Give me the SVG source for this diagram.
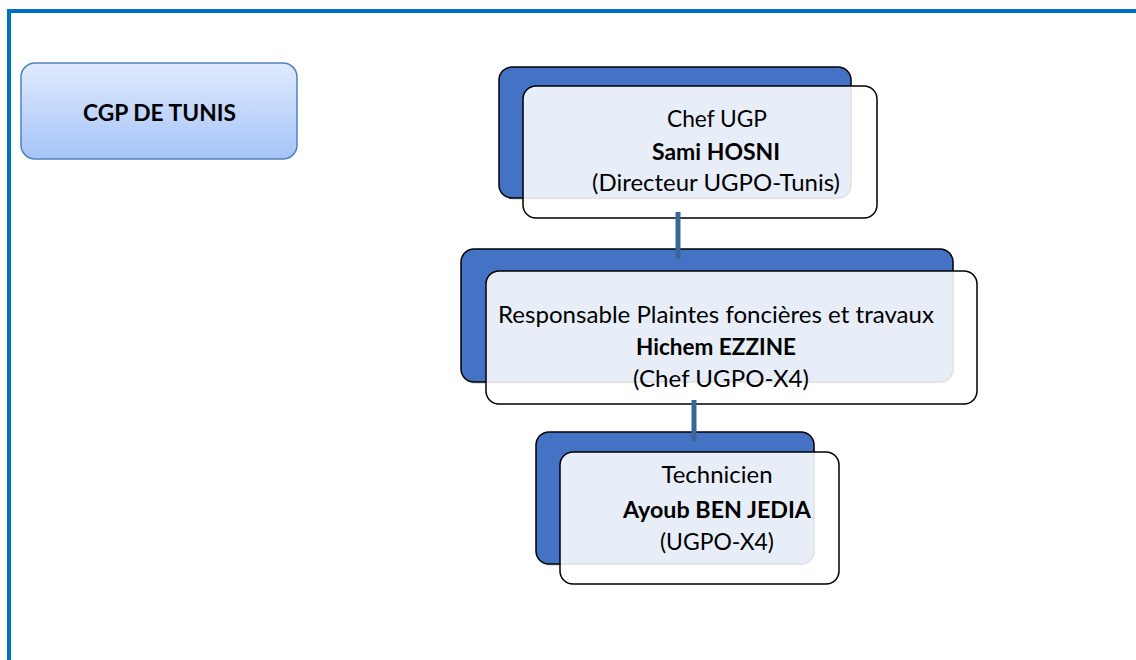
<svg xmlns="http://www.w3.org/2000/svg" width="1136" height="660" viewBox="0 0 1136 660">
  <defs>
    <linearGradient id="cgpFill" x1="0" y1="0" x2="0" y2="1">
      <stop offset="0" stop-color="#E0EAFD"/>
      <stop offset="1" stop-color="#A6C4F9"/>
    </linearGradient>
  </defs>
  <style>
    .frame { fill: none; stroke: #0070C0; stroke-width: 4; }
    .cgp { fill: url(#cgpFill); stroke: #4F81BD; stroke-width: 1.5; }
    .back { fill: #4472C4; stroke: #000; stroke-width: 1.5; }
    .shade { fill: #000; opacity: 0.12; }
    .front { fill: #FFFFFF; fill-opacity: 0.88; stroke: #000; stroke-width: 1.5; }
    .link { stroke: #3B6698; stroke-width: 5; fill: none; }
    text { font-family: Lato, "Liberation Sans", sans-serif; font-size: 23.5px; fill: #000; text-anchor: middle; }
    .b { font-weight: bold; }
  </style>

  <rect width="1136" height="660" fill="#FFFFFF"/>
  <!-- page frame (open towards the right and bottom edges) -->
  <rect class="frame" x="9" y="11" width="1200" height="700"/>

  <g id="cgp-tunis">
    <rect class="cgp" x="21" y="63" width="276" height="96" rx="14"/>
    <text class="b" x="159.5" y="121" font-size="22" textLength="153" lengthAdjust="spacingAndGlyphs">CGP DE TUNIS</text>
  </g>

  <g id="chef-ugp">
    <rect class="shade" x="500" y="69" width="352" height="131" rx="13"/>
    <rect class="back" x="499" y="67" width="352" height="131" rx="13"/>
    <rect class="front" x="523" y="86" width="354" height="132" rx="13"/>
    <text x="717" y="127" textLength="100" lengthAdjust="spacingAndGlyphs">Chef UGP</text>
    <text class="b" x="716" y="160" textLength="128" lengthAdjust="spacingAndGlyphs">Sami HOSNI</text>
    <text x="716" y="191" textLength="248" lengthAdjust="spacingAndGlyphs">(Directeur UGPO-Tunis)</text>
  </g>

  <g id="responsable-plaintes">
    <rect class="shade" x="462" y="251" width="492" height="133" rx="13"/>
    <rect class="back" x="461" y="249" width="492" height="133" rx="13"/>
    <rect class="front" x="486" y="271" width="491" height="133" rx="13"/>
    <text x="716" y="323" textLength="436" lengthAdjust="spacingAndGlyphs">Responsable Plaintes foncières et travaux</text>
    <text class="b" x="716" y="355" textLength="160" lengthAdjust="spacingAndGlyphs">Hichem EZZINE</text>
    <text x="721" y="387" textLength="176" lengthAdjust="spacingAndGlyphs">(Chef UGPO-X4)</text>
  </g>

  <g id="technicien">
    <rect class="shade" x="537" y="434" width="278" height="132" rx="13"/>
    <rect class="back" x="536" y="432" width="278" height="132" rx="13"/>
    <rect class="front" x="560" y="452" width="279" height="132" rx="13"/>
    <text x="717" y="483" textLength="111" lengthAdjust="spacingAndGlyphs">Technicien</text>
    <text class="b" x="717" y="518" textLength="188" lengthAdjust="spacingAndGlyphs">Ayoub BEN JEDIA</text>
    <text x="717" y="550" textLength="114" lengthAdjust="spacingAndGlyphs">(UGPO-X4)</text>
  </g>

  <g id="connectors">
    <line class="link" x1="678" y1="212" x2="678" y2="259"/>
    <line class="link" x1="694" y1="400" x2="694" y2="441"/>
  </g>
</svg>
